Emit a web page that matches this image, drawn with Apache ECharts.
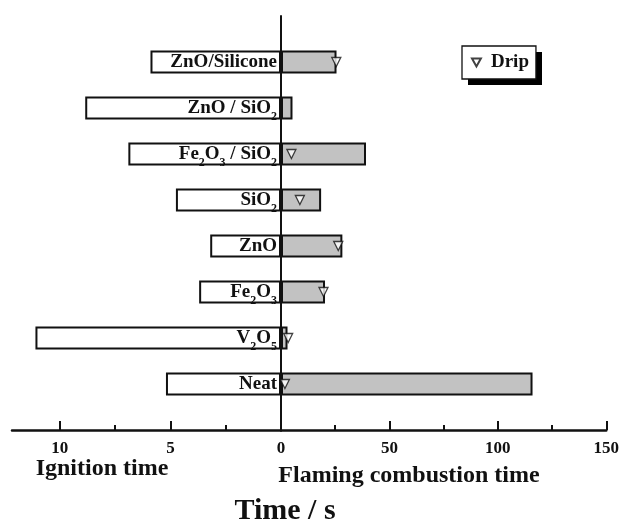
<!DOCTYPE html>
<html><head><meta charset="utf-8">
<script src="https://cdn.jsdelivr.net/npm/echarts@6/dist/echarts.min.js"></script>
<style>html,body{margin:0;padding:0;background:#fff}#c{width:622px;height:530px}</style>
</head><body><div id="c"></div>
<script>
// bottom-to-top order
const categories = ['Neat', 'V2O5', 'Fe2O3', 'ZnO', 'SiO2', 'Fe2O3/SiO2', 'ZnO/SiO2', 'ZnO/Silicone'];
const categoryLabels = ['Neat', 'V{s|2}O{s|5}', 'Fe{s|2}O{s|3}', 'ZnO', 'SiO{s|2}', 'Fe{s|2}O{s|3} / SiO{s|2}', 'ZnO / SiO{s|2}', 'ZnO/Silicone'];
const ignitionTime = [5.2, 11.1, 3.7, 3.2, 4.75, 6.9, 8.85, 5.9];
const flamingTime = [116, 3.0, 20.3, 28.3, 18.5, 39.2, 5.3, 25.6];
const dripTime = [1.8, 3.3, 19.6, 26.4, 8.7, 4.8, null, 25.5];
const leftMajorTicks = [0, 5, 10];
const leftMinorTicks = [2.5, 7.5];

const FONT = 'Liberation Serif';
const INK = '#111';
const yCats = [' '].concat(categories, ['  ']);
const pad = arr => [null].concat(arr, [null]);

const yAxisBase = {
  type: 'category', data: yCats, boundaryGap: false,
  axisTick: {show: false}, axisLabel: {show: false}, splitLine: {show: false}
};

const chart = echarts.init(document.getElementById('c'), null, {renderer: 'canvas'});
chart.setOption({
  animation: false,
  backgroundColor: '#fff',
  grid: [
    {left: 12, top: 16, width: 269, height: 414},
    {left: 281, top: 16, width: 331.8, height: 414},
    {left: 12, top: 16, width: 269, height: 414}
  ],
  xAxis: [
    {
      gridIndex: 0, type: 'value', inverse: true, min: 0, max: 12.16,
      axisLine: {show: true, onZero: false, lineStyle: {color: INK, width: 2.5}},
      axisTick: {show: true, inside: true, length: 9, customValues: leftMajorTicks, lineStyle: {color: INK, width: 2}},
      axisLabel: {customValues: leftMajorTicks, fontSize: 17, fontWeight: 'bold', fontFamily: FONT, color: INK, margin: 10},
      splitLine: {show: false}
    },
    {
      gridIndex: 1, type: 'value', min: 0, max: 150, interval: 50,
      axisLine: {show: true, onZero: false, lineStyle: {color: INK, width: 2.5}},
      axisTick: {show: true, inside: true, length: 9, lineStyle: {color: INK, width: 2}},
      minorTick: {show: true, splitNumber: 2, length: 5, lineStyle: {color: INK, width: 2}},
      axisLabel: {fontSize: 17, fontWeight: 'bold', fontFamily: FONT, color: INK, margin: 10,
        showMinLabel: false},
      splitLine: {show: false}
    },
    {
      gridIndex: 2, type: 'value', inverse: true, min: 0, max: 12.16,
      axisLine: {show: false, onZero: false},
      axisTick: {show: true, inside: true, length: 5, customValues: leftMinorTicks, lineStyle: {color: INK, width: 2}},
      axisLabel: {show: false},
      splitLine: {show: false}
    }
  ],
  yAxis: [
    Object.assign({gridIndex: 0, axisLine: {show: false}}, yAxisBase),
    Object.assign({gridIndex: 1, axisLine: {show: true, onZero: false, lineStyle: {color: INK, width: 2}}}, yAxisBase),
    Object.assign({gridIndex: 2, axisLine: {show: false}}, yAxisBase)
  ],
  legend: {
    data: [{name: 'Drip', icon: 'path://M0,0 L10,0 L5,9 Z'}], left: 462, top: 46,
    padding: [7, 7, 7, 9], itemWidth: 9, itemHeight: 8,
    backgroundColor: '#fff', borderColor: INK, borderWidth: 1.3,
    textStyle: {fontSize: 19, fontWeight: 'bold', fontFamily: FONT, color: INK, padding: [0, 0, 0, 5]}
  },
  series: [
    {
      name: 'Ignition time', type: 'bar', xAxisIndex: 0, yAxisIndex: 0,
      data: pad(ignitionTime), barWidth: 23,
      itemStyle: {color: '#fff', borderColor: INK, borderWidth: 2},
      label: {
        show: true, position: 'insideRight', distance: 4,
        formatter: p => categoryLabels[p.dataIndex - 1],
        fontSize: 19, fontWeight: 'bold', fontFamily: FONT, color: INK,
        rich: {s: {fontSize: 12, fontWeight: 'bold', fontFamily: FONT, color: INK, lineHeight: 12, padding: [18, 0, 0, 0]}}
      }
    },
    {
      name: 'Flaming combustion time', type: 'bar', xAxisIndex: 1, yAxisIndex: 1,
      data: pad(flamingTime), barWidth: 23,
      itemStyle: {color: '#c2c2c2', borderColor: INK, borderWidth: 2}
    },
    {
      name: 'Drip', type: 'scatter', xAxisIndex: 1, yAxisIndex: 1, z: 5,
      data: dripTime.map((v, i) => v == null ? null : [v, i + 1]).filter(d => d),
      symbol: 'triangle', symbolRotate: 180, symbolSize: 9,
      itemStyle: {color: '#fff', borderColor: INK, borderWidth: 1.3}
    }
  ],
  graphic: [
    {type: 'rect', z: -1, shape: {x: 468, y: 52, width: 74, height: 33}, style: {fill: '#000'}},
    {type: 'text', style: {text: 'Ignition time', x: 102, y: 469, align: 'center', verticalAlign: 'middle', fontSize: 24, fontWeight: 'bold', fontFamily: FONT, fill: INK}},
    {type: 'text', style: {text: 'Flaming combustion time', x: 409, y: 476, align: 'center', verticalAlign: 'middle', fontSize: 24, fontWeight: 'bold', fontFamily: FONT, fill: INK}},
    {type: 'text', style: {text: 'Time / s', x: 285, y: 511, align: 'center', verticalAlign: 'middle', fontSize: 30, fontWeight: 'bold', fontFamily: FONT, fill: INK}}
  ]
});
</script></body></html>
